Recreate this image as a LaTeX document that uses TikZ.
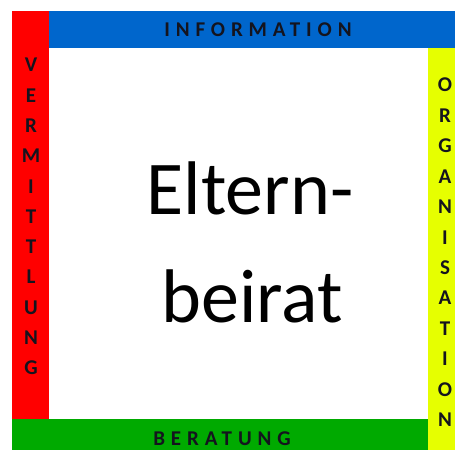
\documentclass[tikz,border=0pt]{standalone}
\usepackage{fontspec}
\setmainfont{Carlito}
\definecolor{barred}{RGB}{255,0,0}
\definecolor{barblue}{RGB}{0,102,204}
\definecolor{baryellow}{RGB}{230,255,0}
\definecolor{bargreen}{RGB}{0,170,0}
\definecolor{lettercol}{RGB}{20,20,30}
\tikzset{
  barlabel/.style={font=\fontsize{21}{21}\selectfont\bfseries\addfontfeature{LetterSpace=28}, text=lettercol, inner sep=0pt},
  vletter/.style={font=\fontsize{21}{21}\selectfont\bfseries, text=lettercol, inner sep=0pt},
  bigtext/.style={font=\fontsize{76}{76}\selectfont, text=black, inner sep=0pt, anchor=base}
}
\begin{document}
\begin{tikzpicture}[x=1pt,y=-1pt]
\useasboundingbox (0,0) rectangle (455,450);
\fill[white] (0,0) rectangle (455,450);
\fill[barred] (12,11) rectangle (49,419);
\fill[barblue] (49,11) rectangle (455,48);
\fill[baryellow] (428,48) rectangle (455,450);
\fill[bargreen] (12,419) rectangle (428,450);
\node[barlabel] (info) at (258,30) {INFORMATION};
\node[barlabel] (bera) at (222,438.5) {BERATUNG};
\foreach \l [count=\i from 0] in {V,E,R,M,I,T,T,L,U,N,G}
  \node[vletter] (v\i) at (31,65+30.3*\i) {\l};
\foreach \l [count=\i from 0] in {O,R,G,A,N,I,S,A,T,I,O,N}
  \node[vletter] (o\i) at (445,85+30.45*\i) {\l};
\node[bigtext] (l1) at (250,214) {Eltern-};
\node[bigtext] (l2) at (252,322) {beirat};
\end{tikzpicture}
\end{document}
